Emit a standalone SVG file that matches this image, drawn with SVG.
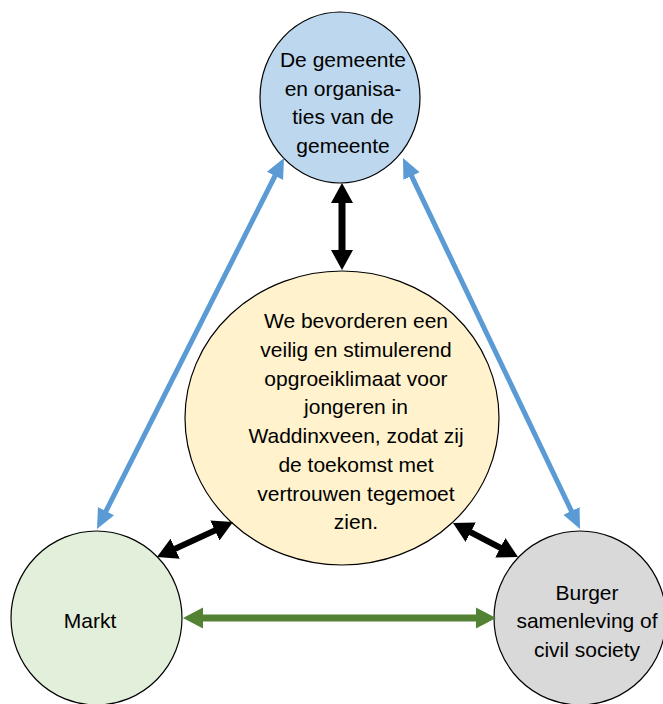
<svg xmlns="http://www.w3.org/2000/svg" width="663" height="704" viewBox="0 0 663 704">
<style>
.node{stroke:#000;stroke-width:1.2}
.t{font-family:"Liberation Sans",Arial,sans-serif;font-size:21px;fill:#000;text-anchor:middle}
.blue{stroke:#5B9BD5;stroke-width:5;fill:none}
.blk{stroke:#000;stroke-width:7;fill:none}
.grn{stroke:#548235;stroke-width:7;fill:none}
</style>
<defs>
<marker id="hb" viewBox="0 -10 20 20" refX="6" refY="0" markerWidth="20" markerHeight="20" markerUnits="userSpaceOnUse" orient="auto-start-reverse"><path d="M0,-9 L20,0 L0,9 z" fill="#5B9BD5"/></marker>
<marker id="hk" viewBox="0 -11 20 22" refX="6" refY="0" markerWidth="20" markerHeight="22" markerUnits="userSpaceOnUse" orient="auto-start-reverse"><path d="M0,-11 L20,0 L0,11 z" fill="#000"/></marker>
<marker id="hg" viewBox="0 -11 20 22" refX="6" refY="0" markerWidth="20" markerHeight="22" markerUnits="userSpaceOnUse" orient="auto-start-reverse"><path d="M0,-10.5 L20,0 L0,10.5 z" fill="#548235"/></marker>
</defs>
<rect width="663" height="704" fill="#fff"/>
<g id="gemeente">
<ellipse class="node" cx="340" cy="97.5" rx="80" ry="85.5" fill="#BDD7EE"/>
<text class="t" x="343" y="67">De gemeente</text>
<text class="t" x="343" y="95.6">en organisa-</text>
<text class="t" x="343" y="124.2">ties van de</text>
<text class="t" x="343" y="152.8">gemeente</text>
</g>
<g id="doel">
<ellipse class="node" cx="342" cy="418" rx="157" ry="147" fill="#FFF2CC"/>
<text class="t" x="356" y="328">We bevorderen  een</text>
<text class="t" x="356" y="356.8">veilig en stimulerend</text>
<text class="t" x="356" y="385.5">opgroeiklimaat voor</text>
<text class="t" x="356" y="414.3">jongeren  in</text>
<text class="t" x="356" y="443">Waddinxveen,  zodat zij</text>
<text class="t" x="356" y="471.8">de toekomst met</text>
<text class="t" x="356" y="500.5">vertrouwen  tegemoet</text>
<text class="t" x="356" y="529.3">zien.</text>
</g>
<g id="markt">
<ellipse class="node" cx="96.5" cy="618" rx="85.5" ry="87" fill="#E2EFDA"/>
<text class="t" x="90" y="628">Markt</text>
</g>
<g id="burger">
<ellipse class="node" cx="580" cy="618" rx="86" ry="87" fill="#D9D9D9"/>
<text class="t" x="587" y="599.5">Burger</text>
<text class="t" x="587" y="628">samenleving  of</text>
<text class="t" x="587" y="656.5">civil society</text>
</g>
<g id="connectors">
<line class="blue" x1="277.7" y1="170.5" x2="103.3" y2="516.5" marker-start="url(#hb)" marker-end="url(#hb)"/>
<line class="blue" x1="409" y1="170.6" x2="574" y2="516.4" marker-start="url(#hb)" marker-end="url(#hb)"/>
<line class="blk" x1="342" y1="197" x2="342" y2="256" marker-start="url(#hk)" marker-end="url(#hk)"/>
<line class="blk" style="stroke-width:6" x1="169.7" y1="551.2" x2="220.3" y2="527.9" marker-start="url(#hk)" marker-end="url(#hk)"/>
<line class="blk" style="stroke-width:6" x1="465.4" y1="529.5" x2="505.6" y2="550.5" marker-start="url(#hk)" marker-end="url(#hk)"/>
<line class="grn" x1="197" y1="618" x2="482" y2="618" marker-start="url(#hg)" marker-end="url(#hg)"/>
</g>
</svg>
